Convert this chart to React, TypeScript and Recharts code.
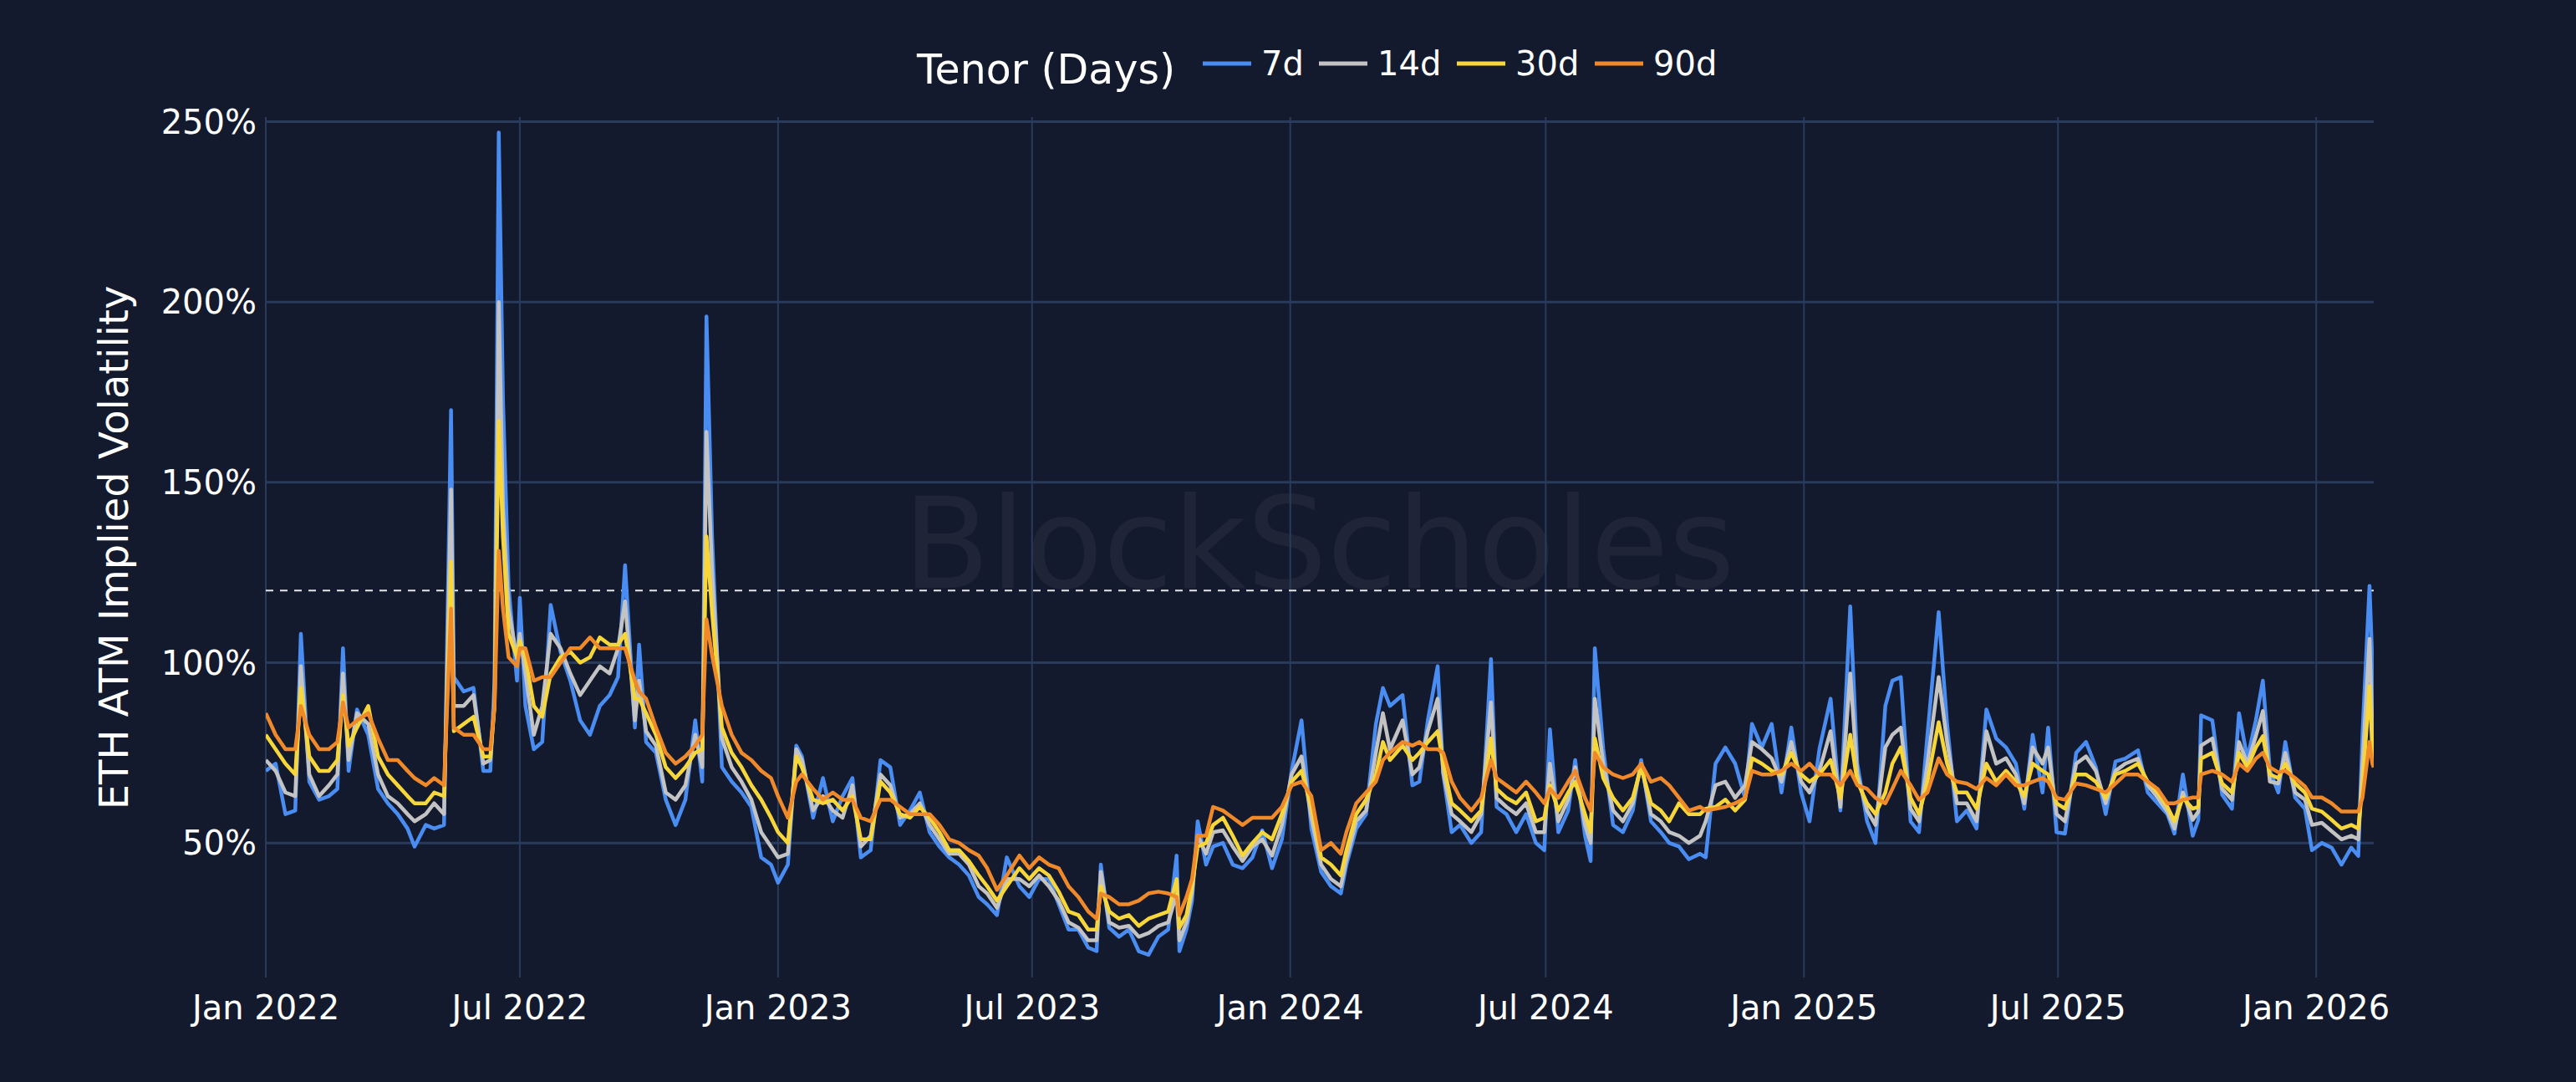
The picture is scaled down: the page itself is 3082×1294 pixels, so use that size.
import React from "react";
import { LineChart, Line, XAxis, YAxis, ReferenceLine } from "recharts";

// ---- data ----
const dates = [
  "2022-01-01","2022-01-08","2022-01-15","2022-01-22","2022-01-26","2022-02-01","2022-02-08","2022-02-15","2022-02-21","2022-02-25",
  "2022-03-01","2022-03-07","2022-03-15","2022-03-22","2022-03-29","2022-04-05","2022-04-12","2022-04-17","2022-04-25","2022-05-01",
  "2022-05-08","2022-05-13","2022-05-15","2022-05-22","2022-05-29","2022-06-05","2022-06-10","2022-06-13","2022-06-16","2022-06-19",
  "2022-06-23","2022-06-29","2022-07-01","2022-07-05","2022-07-11","2022-07-17","2022-07-23","2022-07-30","2022-08-06","2022-08-13",
  "2022-08-20","2022-08-27","2022-09-03","2022-09-09","2022-09-14","2022-09-21","2022-09-24","2022-09-29","2022-10-06","2022-10-13",
  "2022-10-20","2022-10-27","2022-11-03","2022-11-08","2022-11-11","2022-11-15","2022-11-22","2022-11-29","2022-12-06","2022-12-13",
  "2022-12-20","2022-12-27","2023-01-01","2023-01-08","2023-01-14","2023-01-18","2023-01-26","2023-02-02","2023-02-09","2023-02-16",
  "2023-02-23","2023-03-01","2023-03-08","2023-03-15","2023-03-22","2023-03-29","2023-04-05","2023-04-12","2023-04-19","2023-04-26",
  "2023-05-03","2023-05-10","2023-05-17","2023-05-24","2023-05-30","2023-06-06","2023-06-13","2023-06-22","2023-06-29","2023-07-06",
  "2023-07-13","2023-07-20","2023-07-27","2023-08-03","2023-08-10","2023-08-16","2023-08-19","2023-08-25","2023-09-01","2023-09-08",
  "2023-09-15","2023-09-22","2023-09-29","2023-10-06","2023-10-12","2023-10-14","2023-10-19","2023-10-23","2023-10-27","2023-11-02",
  "2023-11-07","2023-11-14","2023-11-21","2023-11-28","2023-12-05","2023-12-12","2023-12-19","2023-12-26","2024-01-02","2024-01-09",
  "2024-01-16","2024-01-23","2024-01-30","2024-02-06","2024-02-10","2024-02-17","2024-02-24","2024-03-02","2024-03-07","2024-03-12",
  "2024-03-21","2024-03-28","2024-04-02","2024-04-08","2024-04-15","2024-04-19","2024-04-25","2024-05-01","2024-05-09","2024-05-16",
  "2024-05-23","2024-05-27","2024-06-03","2024-06-10","2024-06-17","2024-06-24","2024-06-30","2024-07-04","2024-07-10","2024-07-17",
  "2024-07-22","2024-07-29","2024-08-02","2024-08-05","2024-08-11","2024-08-18","2024-08-25","2024-09-01","2024-09-07","2024-09-14",
  "2024-09-21","2024-09-27","2024-10-04","2024-10-11","2024-10-19","2024-10-23","2024-10-30","2024-11-06","2024-11-13","2024-11-20",
  "2024-11-25","2024-12-02","2024-12-09","2024-12-16","2024-12-23","2024-12-30","2025-01-05","2025-01-12","2025-01-20","2025-01-27",
  "2025-02-03","2025-02-08","2025-02-15","2025-02-21","2025-02-28","2025-03-05","2025-03-11","2025-03-18","2025-03-24","2025-03-30",
  "2025-04-07","2025-04-13","2025-04-20","2025-04-27","2025-05-04","2025-05-11","2025-05-18","2025-05-25","2025-06-01","2025-06-07",
  "2025-06-13","2025-06-20","2025-06-24","2025-06-30","2025-07-06","2025-07-14","2025-07-21","2025-07-28","2025-08-04","2025-08-11",
  "2025-08-18","2025-08-27","2025-09-03","2025-09-10","2025-09-17","2025-09-22","2025-09-28","2025-10-05","2025-10-09","2025-10-11",
  "2025-10-19","2025-10-26","2025-11-02","2025-11-07","2025-11-13","2025-11-19","2025-11-24","2025-11-29","2025-12-05","2025-12-10",
  "2025-12-17","2025-12-24","2025-12-29","2026-01-05","2026-01-12","2026-01-19","2026-01-26","2026-01-31","2026-02-03","2026-02-08",
  "2026-02-10","2026-02-11",
];

const vol90d = [
  86,80,76,76,88,80,76,76,78,89,
  82,84,86,79,73,73,70,68,66,68,
  66,115,82,80,80,76,76,88,131,115,
  101.5,99,104,104,95,96,96,100,104,104,
  107,104,104,104,104,95,92,90,82,75,
  72,74,77,80,112,102,88,80,75,73,
  70,68,63,57,67,69,65,62,64,62,
  62,57,56,62,62,60,58,58,58,55,
  51,50,48,46.5,43,37,41,46.5,43,46,
  44,43,38,35,31,29,36,35,33,33,
  34,36,36.5,36,35,30,35,40,52,52,
  60,59,57,55,57,57,57,60,66,67,
  63,48,50,47,53,61,64,67,73,75,
  78,77,78,76,76,75,67,62.5,59,62.5,
  73,68,66,64,67,64,61,65,62.5,67,
  70,62.5,59,75,71,69,68,69,72,67,
  68,66,62.5,59,60,59,59.5,60,61,62.5,
  70,69,69,70,72,70,72,69,69,66,
  70,66,65,62.5,61,65,70,66,62,64,
  73.5,69,67,66.5,65,68,66,69,66,66,
  67,68,67,62.5,62,66.5,66,65,64,66.5,
  69,69,67,65,61,61,62,62.6,62.6,69,
  70,69,67,72,70,73.4,75,71,69.6,70,
  68,65.7,62.6,62.6,61,58.7,58.7,58.7,62.6,78,
  72,71,
];

const vol30d = [
  80,76,72,69,93,74,70,70,73,91,
  77,82,88,74,69,66,63,61,61,64,
  63,128,81,83,85,74,74,88,167,135,
  108,101.5,106,101.5,88,85,97,101.5,103,100,
  101.5,107,105,105,108,90,90,86,80,71,
  68,71,75,76,135,114,82,75,71,66,
  62,57,53,50,74,71,62,61,62,59,
  63,51,51,67,64,58,57,60,57,53,
  48,48,45,41,38,34,38,43,40,43,
  41,36.5,31,30,26,26,38,31,29,30,
  27,29,30,31,40,26.5,30,38,49,50,
  55,57,52,46.5,50,53,51,58,67,70,
  60,46,44,41,48,58,62,69,78,73,
  77,73,75,78,81,72,61,59,56,59,
  79,65,62.5,61,64,56,57,66,59,64,
  67,58,53,79,68,62.5,59,62.5,71,61,
  59,56,61,58,58,59.5,60,62,59,62,
  73.5,72,70,69,75,69,67,69,73,62.5,
  80,67,61,58,64,72,76.5,62.5,58,67,
  83.5,72,64,64,59.5,72,67,70,67,63,
  72,70,69,61,59.5,69,69,67,62.5,69,
  70,72,67,64,60,56,62.6,59.5,60,73.4,
  75,66.5,64,75,71,76.5,79.6,69,68,72,
  66.5,64,59.5,58.7,56.4,54,55,54,65.7,93.5,
  76,73,
];

const vol14d = [
  73,70,64,63,99,69,63,66,69,97,
  73,86,83,69,63,61,58,56,58,61,
  58,148,88,88,91,72,73,89,200,143,
  115,101,108,97,80,88,108,104,97,91,
  95,99,97,104,117,84,95,81,77,64,
  62,66,80,71,164,125,79,71,67,62,
  53,49,46,47,76,73,59,63,59,57,
  66,49,52,69,66,57,58,61,55,51,
  47,47,44,38,36,32,40,40,38,41,
  38,34,28,26.5,23,23,42,28,26.5,27,
  24,25,27,28,36,23,28,36.5,52,47,
  53,53.5,49,45,49,51,46.5,55,69,74,
  57,44,40,38,45.5,56,59,75,86,76,
  84,69,71,81,90,69.5,58,56,53,58,
  89,62.5,60,58,61,53,53,72,56,62,
  71,55,50,90,72,59,56,61,72,58,
  56,53,52,50,52,56,66,67,62.5,66,
  78,76,73.5,67,78,67,64,70,81,60,
  97,69,59,55,76.5,80,82,59.5,56,72,
  96,78,61,61,56,81,72,73.5,69,61,
  76.5,72,76.5,58,56,72,74,70,61,70,
  72,73.4,66,62.6,58.7,54,64,56.4,58.7,77,
  79,65,62,78,72,79.6,86.6,67,66.5,75,
  64,62,55,55.6,53.3,51,52,51,72,106.6,
  82,78,
];

const vol7d = [
  70,72,58,59,108,67,62,63,65,104,
  70,87,80,65,61,58,54,49,55,54,
  55,170,96,92,93,70,70,95,247,173,
  121,95,118,88,76,78,116,103,95,84,
  80,88,91,96,127,82,105,78,75,62,
  55,62,84,67,196,135,71,67,64,60,
  46,44,39,44,77,74,57,68,56,63,
  68,46,48,73,71,55,59,64,53,49,
  46,44,41,35,33,30,46,38,35,40,
  40,33,26,26,21,20,44,26.5,24,26,
  20,19,24,26,46.5,20,26,34,56,44,
  49,50,44,43,46,53.5,43,51,70,84,
  54,42,38,36,44,54,58,83,93,88,
  91,66,67,84,99,69,53,55,50,53,
  101,60,58,53,58,50,48,81.5,53,59,
  73,52,45,104,76,55,53,59,73,56,
  53,50,49,45.5,47,46,72,76.5,72,62.5,
  83,76.5,83,64,82,64,56,76,90,59,
  115.6,72,56,50,88,95,96,56,53,80,
  114,83,56,59,54,87,79,76.5,72,59.5,
  80,64,82,53,52.6,75,78,71,58,72.6,
  73.4,75.7,64,61,58,52.6,69,52,56.4,85.4,
  84,63.4,59.5,86,73.4,84,95,70,64,78,
  62.6,59.5,48,50,48.7,44,48.7,46.4,80.4,121.3,
  100,85,
];

const xTickDates = ["2022-01-01","2022-07-01","2023-01-01","2023-07-01","2024-01-01","2024-07-01","2025-01-01","2025-07-01","2026-01-01"];
const xTickLabels = ["Jan 2022","Jul 2022","Jan 2023","Jul 2023","Jan 2024","Jul 2024","Jan 2025","Jul 2025","Jan 2026"];
const yTicks = [50, 100, 150, 200, 250];
const thresholdLevel = 120;

const seriesKeys = ["v7", "v14", "v30", "v90"];
const seriesNames = ["7d", "14d", "30d", "90d"];
const seriesColors = ["#4a8df2", "#c3c3c3", "#f7d63a", "#f0892a"];

// ---- build table ----
const toTs = (s: string) => Date.parse(s + "T00:00:00Z");
const data = dates.map((d, i) => ({
  t: toTs(d),
  v7: vol7d[i],
  v14: vol14d[i],
  v30: vol30d[i],
  v90: vol90d[i],
}));
const xTicks = xTickDates.map(toTs);

// ---- styling ----
const W = 3082;
const H = 1294;
const BG = "#131a2d";
const GRID = "#293a5b";
const FONT = "'DejaVu Sans', Verdana, sans-serif";

const XTick = (props: any) => {
  const { x, y, payload } = props;
  const idx = xTicks.indexOf(payload.value);
  return (
    <text x={x} y={y + 36} textAnchor="middle" dominantBaseline="central" fill="#ffffff" fontSize={40} fontFamily={FONT}>
      {idx >= 0 ? xTickLabels[idx] : ""}
    </text>
  );
};

const YTick = (props: any) => {
  const { x, y, payload } = props;
  return (
    <text x={x - 11} y={y} textAnchor="end" dominantBaseline="central" fill="#ffffff" fontSize={40} fontFamily={FONT}>
      {`${payload.value}%`}
    </text>
  );
};

const legendLayout = { titleX: 1097, baseline: 100, lineY: 76, firstLineX: 1439, lineLen: 58, textGap: 12, itemGap: 19 };
const legendTextWidths = [50, 76, 76, 76];

function LegendOverlay() {
  let cursor = legendLayout.firstLineX;
  const items = seriesNames.map((name, i) => {
    const x0 = cursor;
    const tx = x0 + legendLayout.lineLen + legendLayout.textGap;
    cursor = tx + legendTextWidths[i] + legendLayout.itemGap;
    return (
      <g key={name}>
        <line x1={x0} x2={x0 + legendLayout.lineLen} y1={legendLayout.lineY} y2={legendLayout.lineY} stroke={seriesColors[i]} strokeWidth={5} />
        <text x={tx} y={legendLayout.lineY} dominantBaseline="central" fill="#ffffff" fontSize={40} fontFamily={FONT}>
          {name}
        </text>
      </g>
    );
  });
  return (
    <g>
      <text x={legendLayout.titleX} y={legendLayout.baseline} fill="#ffffff" fontSize={49} fontFamily={FONT}>
        Tenor (Days)
      </text>
      {items}
    </g>
  );
}

export default function App() {
  return (
    <div style={{ position: "absolute", left: 0, top: 0, width: W, height: H, background: BG, overflow: "hidden" }}>
      <svg width={W} height={H} style={{ position: "absolute", left: 0, top: 0 }}>
        <text x={1578} y={650} textAnchor="middle" dominantBaseline="central" fill="#ffffff" fillOpacity={0.05} fontSize={152} fontFamily={FONT}>
          BlockScholes
        </text>
      </svg>
      <div style={{ position: "absolute", left: 0, top: 0 }}>
        <LineChart width={W} height={H} data={data} margin={{ top: 140, right: 242, left: 0, bottom: 0 }}>
          <XAxis
            dataKey="t"
            type="number"
            domain={[data[0].t, data[data.length - 1].t]}
            ticks={xTicks}
            height={125}
            tickSize={0}
            tickMargin={0}
            axisLine={false}
            tickLine={false}
            tick={<XTick />}
            interval={0}
            allowDataOverflow
          />
          <YAxis
            type="number"
            domain={[12.7, 251.3]}
            ticks={yTicks}
            width={318}
            tickSize={0}
            tickMargin={0}
            axisLine={false}
            tickLine={false}
            tick={<YTick />}
            interval={0}
            allowDataOverflow
          />
          {xTicks.map((t) => (
            <ReferenceLine key={`vx${t}`} x={t} stroke={GRID} strokeWidth={2} />
          ))}
          {yTicks.map((v) => (
            <ReferenceLine key={`hy${v}`} y={v} stroke={GRID} strokeWidth={3} />
          ))}
          <ReferenceLine y={thresholdLevel} stroke="#e6e6e6" strokeWidth={2} strokeDasharray="9 8" />
          {seriesKeys.map((k, i) => (
            <Line
              key={k}
              type="linear"
              dataKey={k}
              name={seriesNames[i]}
              stroke={seriesColors[i]}
              strokeWidth={4.5}
              strokeLinejoin="round"
              dot={false}
              activeDot={false}
              isAnimationActive={false}
            />
          ))}
        </LineChart>
      </div>
      <svg width={W} height={H} style={{ position: "absolute", left: 0, top: 0, pointerEvents: "none" }}>
        <LegendOverlay />
        <text
          x={136}
          y={655}
          transform="rotate(-90 136 655)"
          textAnchor="middle"
          dominantBaseline="central"
          fill="#ffffff"
          fontSize={48}
          fontFamily={FONT}
        >
          ETH ATM Implied Volatility
        </text>
      </svg>
    </div>
  );
}
